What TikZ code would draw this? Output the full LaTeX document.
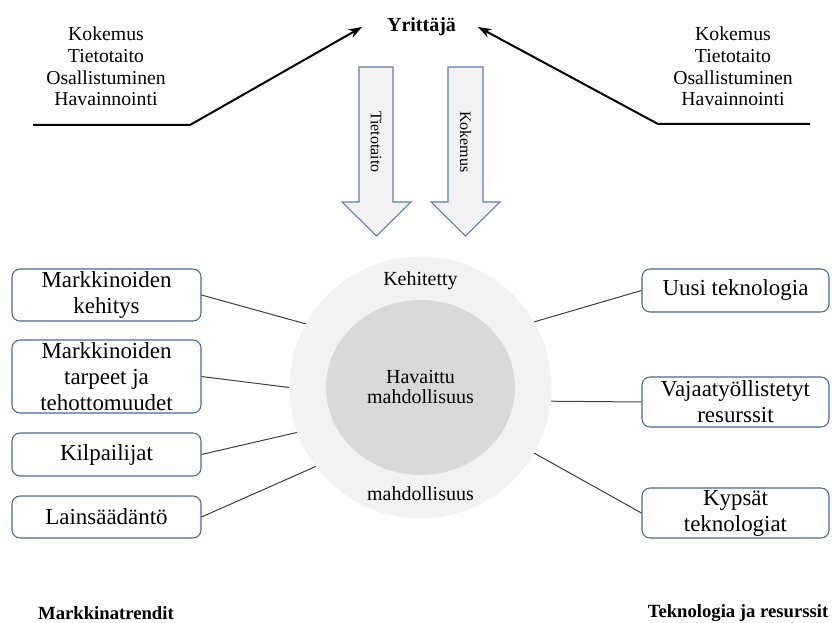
\documentclass[tikz,border=0pt]{standalone}
\usepackage{fontspec}
\setmainfont{Liberation Serif}
\usetikzlibrary{arrows.meta,shapes.geometric}
\definecolor{boxline}{RGB}{72,104,162}
\definecolor{arrowline}{RGB}{96,126,178}
\definecolor{paleshade}{RGB}{242,242,242}
\definecolor{midshade}{RGB}{217,217,217}
\definecolor{linkgray}{RGB}{64,64,64}
\tikzset{
  factorbox/.style={draw=boxline, line width=0.8pt, rounded corners=6pt, fill=white,
    align=center, inner sep=0pt, font=\fontsize{17.2}{19.5}\selectfont},
  leftbox/.style={factorbox, minimum width=141.75pt},
  rightbox/.style={factorbox, minimum width=140.25pt},
  sourcelist/.style={align=center, font=\fontsize{14.8}{16.3}\selectfont},
  bigarrow/.style={draw=arrowline, line width=0.8pt, fill=paleshade, line join=miter},
  arrowtext/.style={rotate=-90, font=\fontsize{12}{14}\selectfont},
  circtext/.style={align=center, font=\fontsize{15}{15}\selectfont},
  linkline/.style={draw=linkgray, line width=0.75pt},
  feedline/.style={draw=black, line width=1.5pt, -{Stealth[length=10pt,width=7pt]}},
  grouplabel/.style={font=\bfseries\fontsize{14}{16}\selectfont}
}
\begin{document}
\begin{tikzpicture}[x=0.75pt,y=-0.75pt]
\useasboundingbox (0,0) rectangle (832,623);

% entrepreneur and the two knowledge sources
\node[font=\bfseries\fontsize{15}{17}\selectfont] (yr) at (421.5,27) {Yrittäjä};
\node[sourcelist] (srcL) at (106,66.5) {Kokemus\\Tietotaito\\Osallistuminen\\Havainnointi};
\node[sourcelist] (srcR) at (733,66.5) {Kokemus\\Tietotaito\\Osallistuminen\\Havainnointi};

\coordinate (lA) at (33,125);
\coordinate (lB) at (190,125);
\coordinate (lTip) at (362,27);
\coordinate (rA) at (810,124);
\coordinate (rB) at (658,124);
\coordinate (rTip) at (478,27);
\draw[feedline] (lA) -- (lB) -- (lTip);
\draw[feedline] (rA) -- (rB) -- (rTip);

% downward block arrows
\draw[bigarrow] (359,67) -- (393,67) -- (393,202) -- (411,202) -- (376.5,236)
  -- (342,202) -- (359,202) -- cycle;
\draw[bigarrow] (448,67) -- (483,67) -- (483,202) -- (500,202) -- (465.5,236)
  -- (431,202) -- (448,202) -- cycle;
\node[arrowtext] (aT) at (376,142) {Tietotaito};
\node[arrowtext] (aK) at (465.5,142) {Kokemus};

% opportunity circles
\node[circle, fill=paleshade, minimum size=196.5pt, inner sep=0pt] (outer) at (420.5,387.5) {};
\node[ellipse, fill=midshade, minimum width=141.75pt, minimum height=131.25pt, inner sep=0pt]
  (inner) at (420.5,387.5) {};
\node[circtext] (kehit) at (420.5,281) {Kehitetty};
\node[circtext, font=\fontsize{15}{15}\selectfont] (hav) at (420.5,387) {Havaittu\\mahdollisuus};
\node[circtext] (mahd) at (420.5,494) {mahdollisuus};

% market factors
\node[leftbox, minimum height=39pt] (m1) at (106.5,295) {Markkinoiden\\kehitys};
\node[leftbox, minimum height=54.75pt] (m2) at (106.5,376.5) {Markkinoiden\\tarpeet ja\\tehottomuudet};
\node[leftbox, minimum height=32.25pt] (m3) at (106.5,454.5) {Kilpailijat};
\node[leftbox, minimum height=31.5pt] (m4) at (106.5,517) {Lainsäädäntö};

% technology factors
\node[rightbox, minimum height=32.25pt] (t1) at (735.5,290.5) {Uusi teknologia};
\node[rightbox, minimum height=37.5pt] (t2) at (735.5,402) {Vajaatyöllistetyt\\resurssit};
\node[rightbox, minimum height=37.5pt] (t3) at (735.5,513) {Kypsät\\teknologiat};

% links to the circle
\draw[linkline] (m1.east) -- (outer.151);
\draw[linkline] (m2.east) -- (outer.180);
\draw[linkline] (m3.east) -- (outer.200);
\draw[linkline] (m4.east) -- (outer.217);
\draw[linkline] (t1.west) -- (outer.30);
\draw[linkline] (t2.west) -- (outer.-6);
\draw[linkline] (t3.west) -- (outer.-30);

% group labels
\node[grouplabel] (gM) at (106,613) {Markkinatrendit};
\node[grouplabel] (gT) at (738,613) {Teknologia ja resurssit};
\end{tikzpicture}
\end{document}
